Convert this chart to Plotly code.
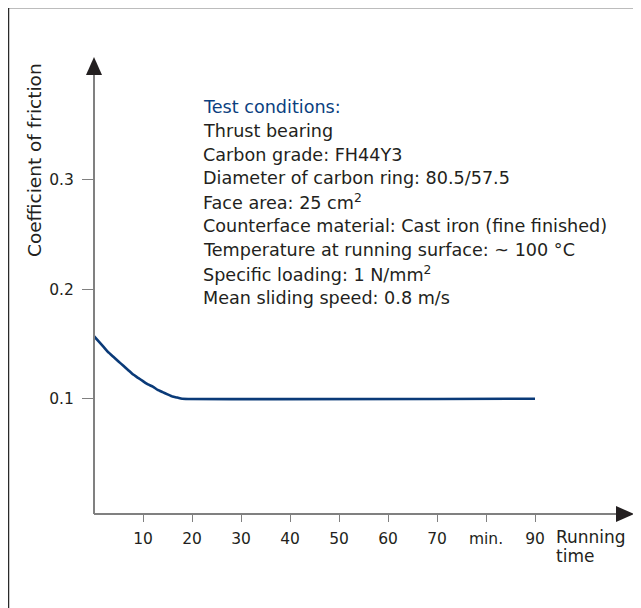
import plotly.graph_objects as go

# Data
running_time = [0, 1, 2, 3, 4, 5, 6, 7, 8, 9, 10, 11, 12, 13, 14, 15, 16, 17, 18, 90]
friction = [0.157, 0.152, 0.147, 0.142, 0.138, 0.134, 0.130, 0.126, 0.122, 0.119, 0.116,
            0.113, 0.111, 0.108, 0.106, 0.104, 0.102, 0.101, 0.100, 0.100]
x_tick_vals = [10, 20, 30, 40, 50, 60, 70, 80, 90]
x_tick_text = ["10", "20", "30", "40", "50", "60", "70", "min.", "90"]
y_tick_vals = [0.1, 0.2, 0.3]
y_tick_text = ["0.1", "0.2", "0.3"]
conditions_title = "Test conditions:"
conditions = [
    "Thrust bearing",
    "Carbon grade: FH44Y3",
    "Diameter of carbon ring: 80.5/57.5",
    "Face area: 25 cm<sup>2</sup>",
    "Counterface material: Cast iron (fine finished)",
    "Temperature at running surface: ~ 100 °C",
    "Specific loading: 1 N/mm<sup>2</sup>",
    "Mean sliding speed: 0.8 m/s",
]
x_title_lines = ["Running", "time"]
y_title = "Coefficient of friction"

OFF = 8  # page offset of the figure (body margin)
W, H = 641, 608
L, R, T, B = 94 - OFF, 633 - OFF, 58 - OFF, 514 - OFF
FONT = "DejaVu Sans"
TXT = "#231f20"
BLUE = "#0b3f80"

fig = go.Figure()
fig.add_trace(go.Scatter(x=running_time, y=friction, mode="lines",
                         line=dict(color="#0a3a78", width=2.6, shape="spline", smoothing=0.3),
                         hoverinfo="skip", showlegend=False))

def px(xp):
    return (xp - OFF - L) / (R - L)

def py(yp):
    return (B - (yp - OFF)) / (B - T)

shapes = []
# frame
shapes.append(dict(type="line", xref="paper", yref="paper", x0=px(8), x1=px(700), y0=py(7.5), y1=py(7.5),
                   line=dict(color="#7a7a7a", width=2)))
shapes.append(dict(type="line", xref="paper", yref="paper", x0=px(8.5), x1=px(8.5), y0=py(7), y1=py(700),
                   line=dict(color="#2a2a2a", width=1.5)))
# axis lines
shapes.append(dict(type="line", xref="paper", yref="paper", x0=0, x1=0, y0=0, y1=py(70),
                   line=dict(color="#808080", width=2)))
shapes.append(dict(type="line", xref="paper", yref="paper", x0=0, x1=px(620), y0=0, y1=0,
                   line=dict(color="#808080", width=2)))
# arrowheads
shapes.append(dict(type="path", xref="paper", yref="paper",
                   path=f"M {px(86)} {py(75)} L {px(102)} {py(75)} L {px(94)} {py(57)} Z",
                   fillcolor="#231f20", line=dict(width=0)))
shapes.append(dict(type="path", xref="paper", yref="paper",
                   path=f"M {px(616)} {py(506)} L {px(616)} {py(522)} L {px(634)} {py(514)} Z",
                   fillcolor="#231f20", line=dict(width=0)))

annotations = []
annotations.append(dict(text=conditions_title, xref="paper", yref="paper", x=px(201), y=py(106.7),
                        xanchor="left", yanchor="middle", showarrow=False,
                        font=dict(family=FONT, size=17.6, color=BLUE)))
for i, line in enumerate(conditions):
    annotations.append(dict(text=line, xref="paper", yref="paper", x=px(201), y=py(130.6 + 23.9 * i),
                            xanchor="left", yanchor="middle", showarrow=False,
                            font=dict(family=FONT, size=17.6, color=TXT)))
annotations.append(dict(text=y_title, xref="paper", yref="paper", x=px(34), y=py(160),
                        textangle=-90, xanchor="center", yanchor="middle", showarrow=False,
                        font=dict(family=FONT, size=18.5, color=TXT)))
for i, word in enumerate(x_title_lines):
    annotations.append(dict(text=word, xref="paper", yref="paper", x=px(555), y=py(537 + 19 * i),
                            xanchor="left", yanchor="middle", align="left", showarrow=False,
                            borderpad=0,
                            font=dict(family=FONT, size=17, color=TXT)))

fig.update_layout(
    width=W, height=H,
    margin=dict(l=L, r=W - R, t=T, b=H - B, pad=0),
    paper_bgcolor="white", plot_bgcolor="white",
    shapes=shapes, annotations=annotations,
    xaxis=dict(range=[0, (R - L) / 4.9], tickvals=x_tick_vals, ticktext=x_tick_text,
               ticks="outside", ticklen=7, tickwidth=1.2, tickcolor="#808080",
               ticklabelstandoff=3,
               showgrid=False, zeroline=False, showline=False,
               tickfont=dict(family=FONT, size=15.5, color=TXT)),
    yaxis=dict(range=[0.1 - (B + OFF - 398.7) / 1096, 0.1 + (398.7 - T - OFF) / 1096],
               tickvals=y_tick_vals, ticktext=y_tick_text,
               ticks="outside", ticklen=11, tickwidth=1.2, tickcolor="#808080",
               ticklabelstandoff=5,
               showgrid=False, zeroline=False, showline=False,
               tickfont=dict(family=FONT, size=15.5, color=TXT)),
)

fig.write_html("out.html")
